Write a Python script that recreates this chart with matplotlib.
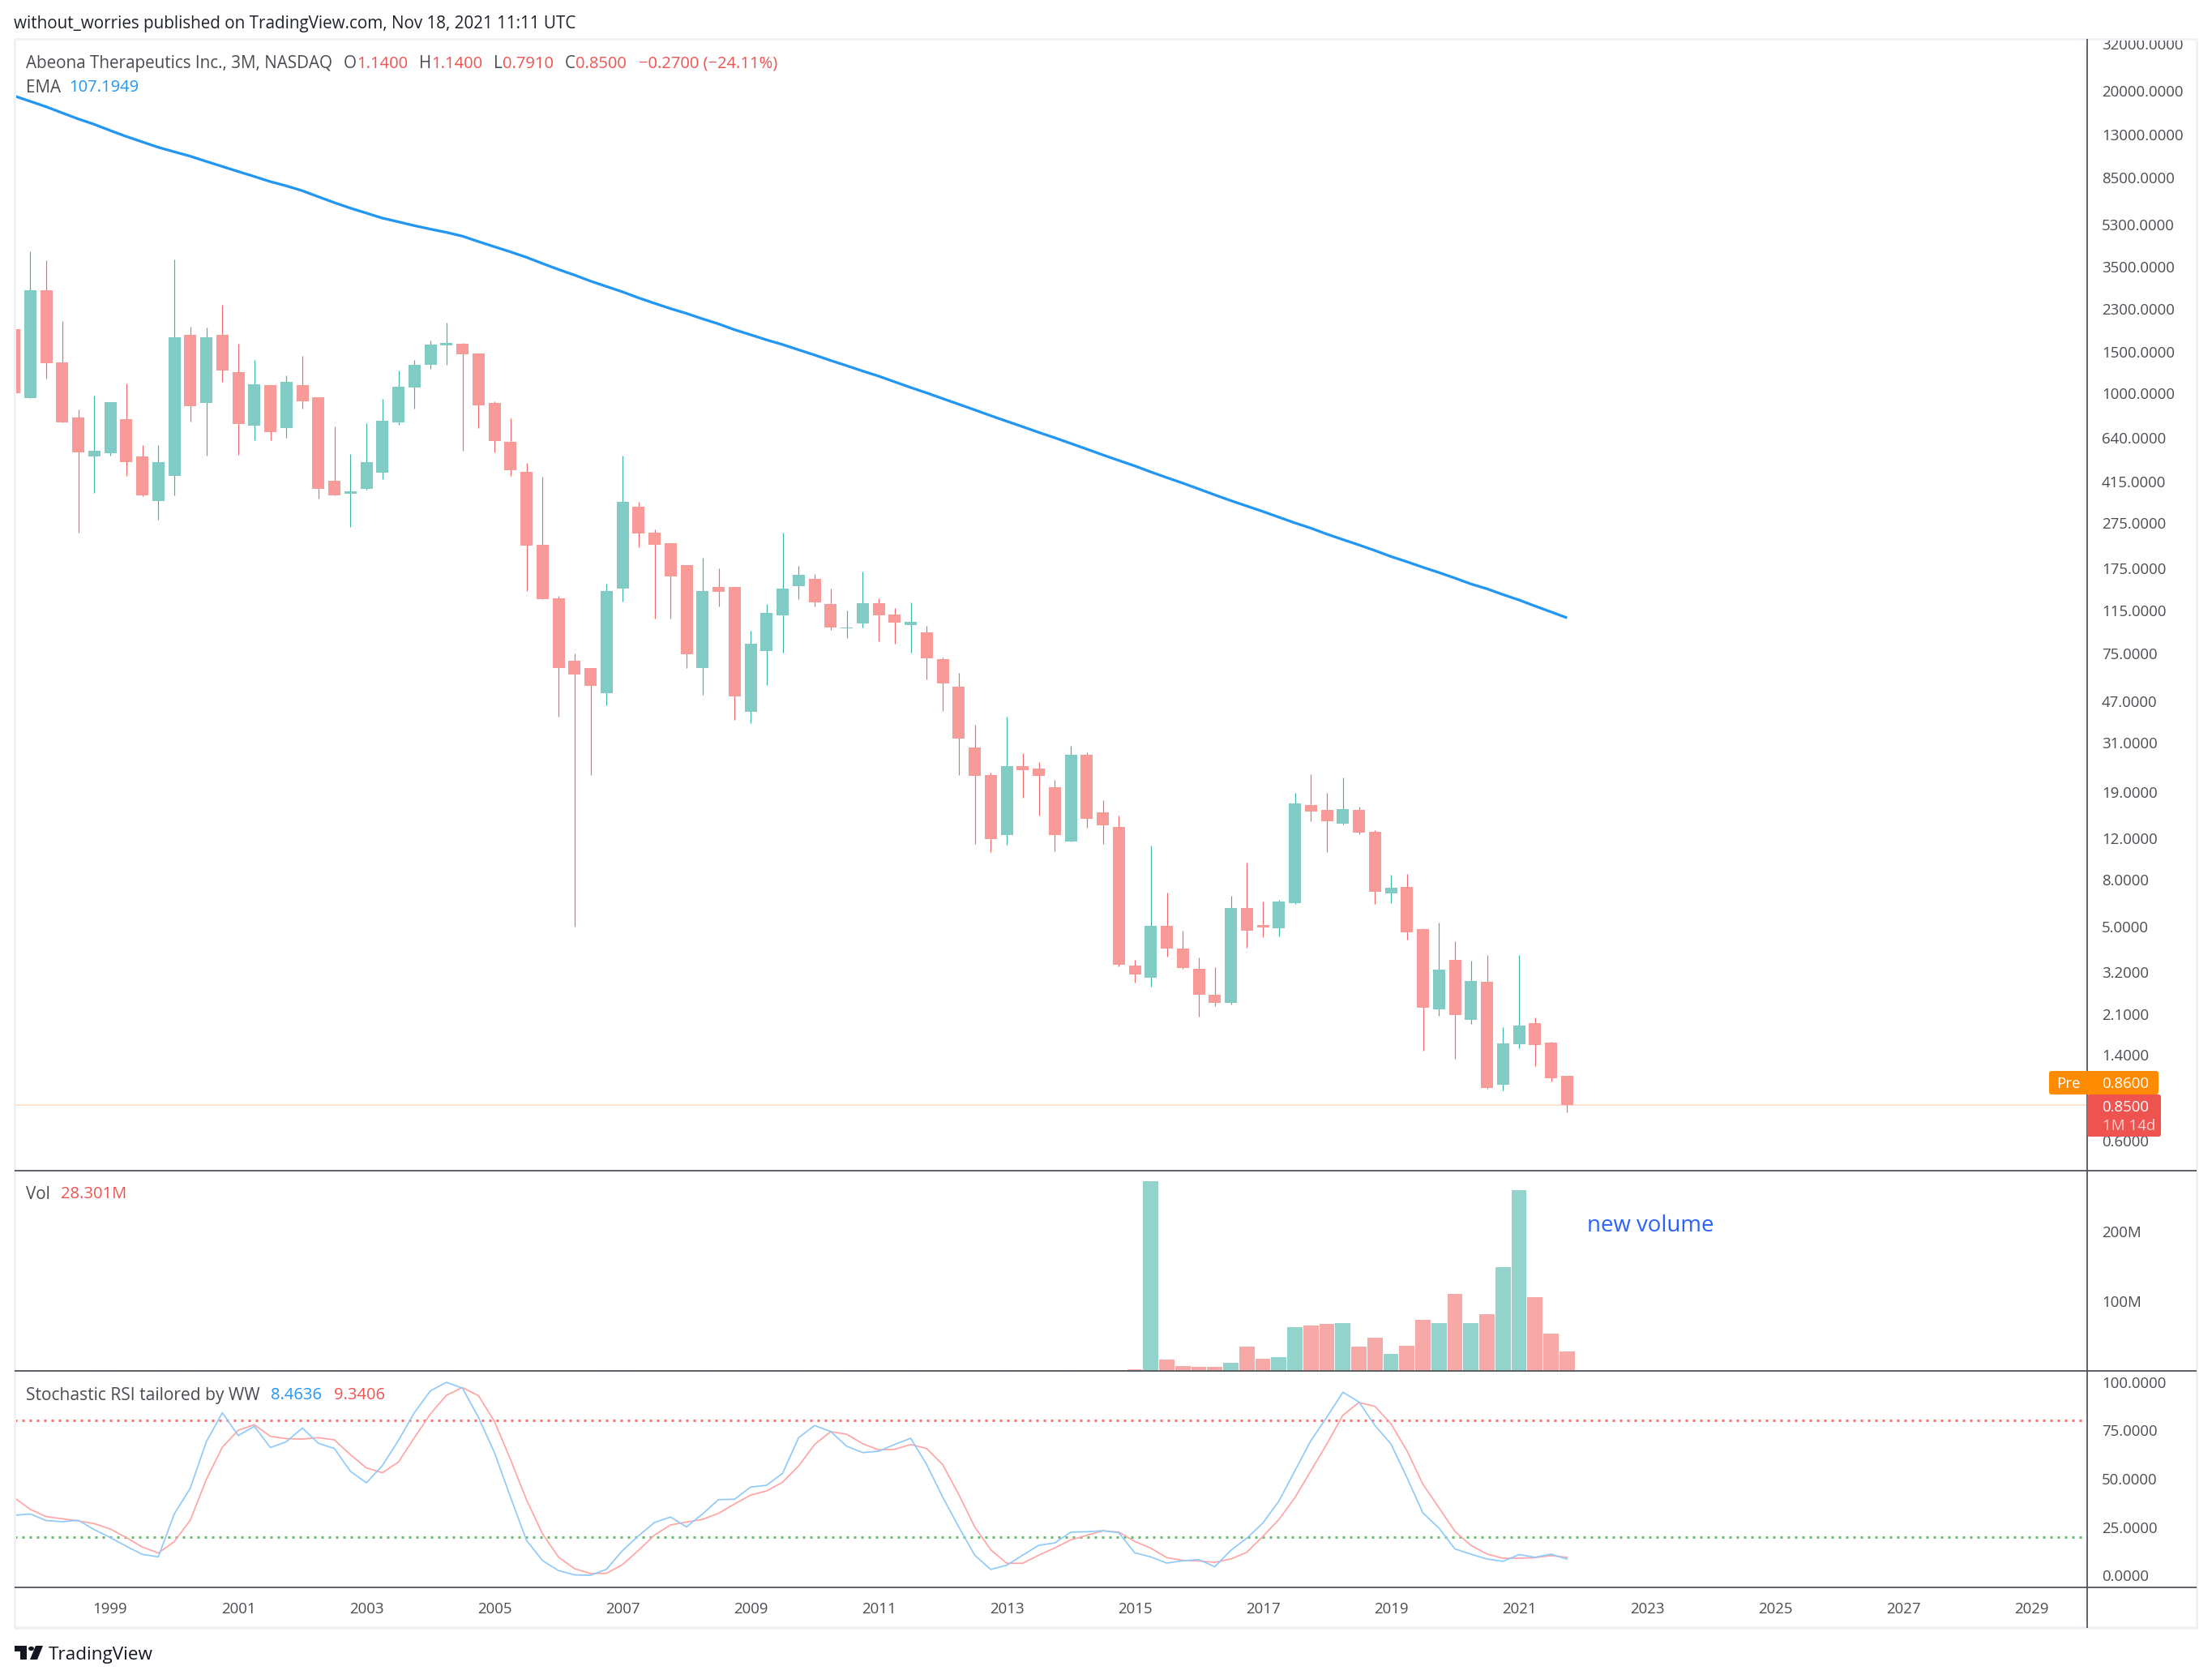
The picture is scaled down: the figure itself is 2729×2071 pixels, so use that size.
import numpy as np
import matplotlib
matplotlib.use("Agg")
import matplotlib.pyplot as plt
from matplotlib.patches import Polygon, Circle, FancyBboxPatch
from matplotlib.lines import Line2D
from matplotlib.transforms import Bbox
from matplotlib.ticker import NullLocator

plt.rcParams['font.family'] = ['Open Sans', 'DejaVu Sans']

W, H = 2729, 2071

# Quarterly candles, Q3 1997 .. Q4 2021
first_quarter = 1997.5
opens = [1884, 952, 2766, 1354, 781, 530, 548, 770, 532, 342,
         437, 1778, 908, 1778, 1229, 724, 1080, 702, 1080, 955,
         418, 366, 384, 451, 748, 1057, 1315, 1602, 1626, 1476,
         905, 614, 456, 222, 130, 69.9, 65.1, 50.8, 143, 323,
         249, 225, 181, 65.1, 146, 146, 42.1, 77.0, 110, 147,
         158, 123, 96.6, 101, 124, 111, 99.8, 92.8, 71.2, 54.2,
         29.6, 22.6, 12.4, 24.6, 24.0, 20.0, 11.6, 27.6, 15.6, 13.5,
         3.40, 3.02, 5.05, 4.02, 3.29, 2.55, 2.35, 6.01, 5.08, 4.92,
         6.32, 16.7, 15.9, 13.9, 15.9, 12.8, 6.97, 7.41, 4.88, 2.20,
         3.60, 1.98, 2.89, 1.04, 1.56, 1.92, 1.58, 1.14]
closes = [997, 2766, 1344, 748, 555, 564, 912, 501, 360, 502,
          1734, 873, 1734, 1251, 735, 1087, 675, 1115, 922, 386,
          362, 377, 502, 757, 1064, 1320, 1614, 1638, 1471, 886,
          621, 463, 220, 129, 64.9, 61.2, 54.6, 140, 338, 248,
          222, 162, 74.6, 140, 139, 49.2, 82.8, 113, 143, 164,
          125, 97.4, 97.4, 124, 110, 102, 103, 71.7, 56.0, 32.3,
          22.3, 11.9, 24.6, 23.6, 22.3, 12.4, 27.6, 14.6, 13.7, 3.42,
          3.12, 5.05, 4.02, 3.31, 2.55, 2.35, 6.01, 4.80, 4.95, 6.42,
          17.0, 15.7, 14.2, 16.0, 12.7, 7.07, 7.35, 4.73, 2.24, 3.27,
          2.08, 2.92, 1.01, 1.57, 1.87, 1.55, 1.11, 0.85]
highs = [1884, 4078, 3741, 2038, 846, 973, 912, 1095, 595, 595,
         3754, 1924, 1911, 2395, 1626, 1383, 1080, 1190, 1444, 955,
         717, 546, 740, 942, 1246, 1383, 1685, 2002, 1638, 1476,
         918, 776, 497, 435, 133, 75.4, 65.1, 150, 536, 338,
         258, 225, 181, 194, 175, 146, 94.2, 123, 249, 179,
         166, 143, 115, 170, 130, 118, 125, 99.0, 72.2, 62.1,
         37.0, 23.1, 40.2, 28.0, 25.6, 21.4, 30.1, 28.2, 17.5, 15.1,
         3.60, 11.2, 7.02, 4.80, 3.69, 3.35, 6.80, 9.46, 6.42, 6.53,
         18.8, 22.7, 18.8, 22.0, 16.4, 13.0, 8.37, 8.43, 4.92, 5.21,
         4.32, 3.57, 3.77, 1.85, 3.77, 2.03, 1.59, 1.14]
lows = [997, 950, 1152, 747, 249, 369, 534, 438, 359, 283,
        361, 751, 534, 1115, 540, 625, 625, 639, 855, 350,
        361, 264, 383, 426, 730, 855, 1264, 1325, 564, 704,
        553, 440, 140, 129, 40.2, 5.01, 22.5, 45.1, 126, 216,
        106, 106, 65.1, 49.9, 120, 38.8, 37.7, 55.0, 75.9, 129,
        120, 95.1, 87.7, 97.4, 84.9, 82.9, 75.9, 58.2, 42.6, 22.6,
        11.4, 10.5, 11.3, 18.0, 15.1, 10.6, 11.6, 13.3, 11.4, 3.37,
        2.87, 2.76, 3.72, 3.29, 2.05, 2.27, 2.31, 4.05, 4.51, 4.54,
        6.26, 14.2, 10.5, 13.8, 12.5, 6.26, 6.32, 4.40, 1.46, 2.06,
        1.35, 1.91, 1.00, 0.984, 1.50, 1.25, 1.08, 0.791]
ema = [19030, 18040, 17090, 16080, 15150, 14360, 13500, 12730, 12060, 11430,
       10930, 10460, 9936, 9450, 8985, 8556, 8130, 7794, 7427, 6998,
       6600, 6250, 5950, 5662, 5455, 5253, 5075, 4914, 4732, 4485,
       4261, 4050, 3837, 3608, 3401, 3217, 3030, 2872, 2723, 2566,
       2431, 2306, 2198, 2083, 1981, 1870, 1779, 1691, 1614, 1532,
       1455, 1378, 1309, 1241, 1180, 1115, 1054, 999, 944, 893,
       844, 797, 754, 714, 675, 640, 605, 572, 540, 511,
       484, 456, 431, 408, 385, 363, 343, 325, 308, 291,
       275, 261, 246, 233, 221, 209, 197, 187, 177, 168,
       159, 150, 143, 135, 128, 120.5, 113.7, 107.19]
volume_m = [0.8] * 65 + [1.5, 1.5, 1.5, 1.5, 1.5, 2.4,
            272, 16.4, 7.2, 5.8, 5.8, 11.6, 35.2, 17.4, 19.8, 62.7,
            65.1, 67.5, 68.5, 35.2, 47.8, 24.6, 36.2, 73.3, 68.5, 110.5,
            68.5, 81.5, 149, 259, 105.6, 53.5, 28.3]
stoch_k = [31.1, 31.8, 28.4, 27.8, 28.5, 23.7, 19.6, 15.1, 10.9, 9.6,
           31.8, 45.1, 69.1, 84.1, 72.3, 77.1, 66.1, 69.1, 76.2, 68.3,
           65.6, 53.8, 47.9, 56.8, 69.8, 84.2, 95.4, 99.8, 96.8, 81.7,
           63.5, 40.5, 18.2, 7.7, 2.5, 0.3, 0.1, 3.2, 12.9, 20.5,
           27.4, 30.2, 25.1, 31.8, 39.2, 39.4, 45.7, 46.6, 52.8, 71.2,
           77.5, 74.4, 66.8, 63.5, 64.2, 67.7, 70.9, 57.3, 40.5, 25.1,
           10.5, 3.1, 5.3, 10.5, 15.6, 16.8,
           22.4, 22.6, 23.1, 22.1, 11.7, 9.6, 6.4, 7.6, 8.2, 4.5,
           13.0, 19.3, 27.1, 38.4, 54.1, 69.7, 81.9, 94.7, 89.7, 77.5,
           68.0, 50.6, 32.3, 24.5, 13.7, 11.0, 8.5, 7.3, 10.8, 9.4, 11.0, 8.46]
stoch_d = [40.2, 34.2, 30.4, 29.3, 28.2, 26.8, 24.0, 19.6, 14.7, 11.6,
           17.5, 28.6, 49.6, 66.3, 75.1, 77.9, 71.9, 70.7, 70.5, 71.2,
           70.1, 62.4, 55.6, 53.1, 58.6, 71.2, 83.5, 93.1, 97.1, 92.9,
           79.6, 60.0, 39.1, 21.6, 9.5, 3.5, 1.0, 1.1, 5.6, 13.0,
           20.9, 26.1, 27.6, 29.0, 32.1, 37.0, 41.5, 43.7, 48.2, 56.6,
           67.7, 74.3, 73.0, 68.1, 64.9, 65.2, 67.7, 65.6, 57.3, 41.9,
           25.1, 13.3, 6.3, 6.3, 10.5, 14.2,
           18.4, 20.7, 23.1, 22.4, 17.6, 14.1, 9.2, 7.8, 7.5, 6.8,
           8.5, 12.0, 20.2, 28.9, 40.2, 54.1, 68.0, 82.8, 89.4, 87.4,
           78.4, 64.5, 47.1, 35.0, 22.8, 15.5, 11.1, 8.9, 8.9, 9.2, 10.3, 9.34]

price_ticks = [32000, 20000, 13000, 8500, 5300, 3500, 2300, 1500, 1000, 640, 415, 275,
               175, 115, 75, 47, 31, 19, 12, 8, 5, 3.2, 2.1, 1.4, 0.6]
volume_ticks = [100, 200]
volume_tick_labels = ['100M', '200M']
stoch_ticks = [0, 25, 50, 75, 100]
year_ticks = list(range(1999, 2031, 2))
stoch_upper, stoch_lower = 80, 20
last_close, pre_price = 0.85, 0.86

TEAL_BODY, RED_BODY = '#80CBC4', '#F79A98'
TEAL_WICK, RED_WICK = '#3DB3A8', '#F0686A'
TEAL_VOL, RED_VOL = '#94D3CC', '#F7A9A7'
GREY = '#4A4C52'
RED = '#EF5350'
BLUE = '#2196F3'
SEP = '#50535B'
BORDER = '#F0F1F7'

LEFT, AXIS_X, RIGHT = 18, 2575, 2710
TOP, P1, P2, P3, BOTTOM = 48, 1444, 1691, 1958, 2008


def fx(px):
    return px / W


def fy(py):
    return 1 - py / H


def pane(top, bottom):
    ax = fig.add_axes([fx(LEFT), fy(bottom), fx(AXIS_X) - fx(LEFT), fy(top) - fy(bottom)])
    ax.set_facecolor('white')
    for s in ax.spines.values():
        s.set_visible(False)
    ax.set_xlim(1997.506, 2029.873)
    ax.set_xticks([])
    ax.yaxis.tick_right()
    ax.tick_params(axis='y', length=0, pad=13, labelsize=TICK_FS, labelcolor=GREY)
    return ax


TICK_FS = 13.4
fig = plt.figure(figsize=(W / 100, H / 100), dpi=100, facecolor='white')
n = len(opens)
xs = first_quarter + 0.25 * np.arange(n)
is_up = np.array(closes) >= np.array(opens)

# ---- price pane
ax = pane(TOP, P1)
ax.set_yscale('log')
ax.set_ylim(10 ** (-0.3525), 10 ** 4.5252)
body_colors = [TEAL_BODY if u else RED_BODY for u in is_up]
wick_colors = [TEAL_WICK if u else RED_WICK for u in is_up]
ax.vlines(xs, lows, highs, colors=wick_colors, linewidth=0.85, zorder=2)
body_lo = np.minimum(opens, closes)
body_hi = np.maximum(opens, closes)
ax.bar(xs, body_hi - body_lo, bottom=body_lo, width=0.19, color=body_colors, linewidth=0, zorder=3)
ax.plot(xs, ema, color=BLUE, lw=2.35, zorder=4, solid_capstyle='butt')
ax.axhline(last_close, color=RED, lw=0.72, ls=(0, (1, 1)), zorder=1, alpha=0.4)
ax.axhline(pre_price, color='#FF9800', lw=0.72, ls=(0, (1, 1)), zorder=1, alpha=0.4)
ax.set_yticks(price_ticks)
ax.set_yticklabels([f'{v:.4f}' for v in price_ticks])
ax.yaxis.set_minor_locator(NullLocator())
for lbl in ax.get_yticklabels():
    lbl.set_clip_on(True)
    lbl.set_clip_box(Bbox([[0, 0], [W, fy(TOP) * H]]))

# ---- volume pane
axv = pane(P1, P2)
axv.set_ylim(0, 287)
axv.bar(xs, volume_m, width=0.237, color=[TEAL_VOL if u else RED_VOL for u in is_up], linewidth=0)
axv.set_yticks(volume_ticks)
axv.set_yticklabels(volume_tick_labels)

# ---- stochastic pane
axs = pane(P2, P3)
axs.set_ylim(-6.16, 105.7)
axs.axhline(stoch_upper, color='#FF6F6F', lw=2.16, ls=(0, (1, 2)), zorder=1, dash_capstyle='butt')
axs.axhline(stoch_lower, color='#69BC6C', lw=2.16, ls=(0, (1, 2)), zorder=1, dash_capstyle='butt')
axs.plot(xs, stoch_k, color='#90CAF9', lw=1.25, zorder=3)
axs.plot(xs, stoch_d, color='#FFA5A5', lw=1.25, zorder=2)
axs.set_yticks(stoch_ticks)
axs.set_yticklabels([f'{v:.4f}' for v in stoch_ticks])
axs.set_xticks(year_ticks)
axs.set_xticklabels([str(y) for y in year_ticks])
axs.tick_params(axis='x', length=0, pad=13, labelsize=TICK_FS, labelcolor=GREY)


# ---- frame and separators
def fline(x0, y0, x1, y1, color, px):
    fig.add_artist(Line2D([fx(x0), fx(x1)], [fy(y0), fy(y1)], color=color, lw=px * 0.72,
                          transform=fig.transFigure, solid_capstyle='butt', zorder=5))


fline(LEFT, TOP, RIGHT, TOP, BORDER, 3)
fline(LEFT, TOP, LEFT, BOTTOM, BORDER, 3)
fline(RIGHT, TOP, RIGHT, BOTTOM, BORDER, 3)
fline(LEFT, BOTTOM, RIGHT + 1, BOTTOM, BORDER, 4)
for yy in (P1, P2, P3):
    fline(LEFT, yy, RIGHT, yy, SEP, 1.8)
fline(AXIS_X, TOP, AXIS_X, BOTTOM, SEP, 1.8)


# ---- price labels on the scale
def box(x0, y0, x1, y1, color):
    fig.add_artist(FancyBboxPatch((fx(x0), fy(y1)), fx(x1) - fx(x0), fy(y0) - fy(y1),
                                  boxstyle='round,pad=0,rounding_size=0.0012', mutation_aspect=W / H,
                                  facecolor=color, edgecolor='none', transform=fig.transFigure, zorder=6))


box(2528, 1321, 2663, 1350, '#FF8C00')
box(AXIS_X, 1350, 2666, 1402, RED)


def txt(x, y, s, color=GREY, size=14.9, **kw):
    kw.setdefault('ha', 'left')
    kw.setdefault('va', 'center')
    return fig.text(fx(x), fy(y), s, color=color, fontsize=size, zorder=7, **kw)


VAL_FS = 14.5
txt(2537, 1337, 'Pre', 'white', TICK_FS)
txt(2593, 1337, f'{pre_price:.4f}', 'white', TICK_FS)
txt(2593, 1366, f'{last_close:.4f}', 'white', TICK_FS)
txt(2594, 1389, '1M 14d', '#FBD0CF', TICK_FS)

# ---- texts
txt(17, 29, 'without_worries published on TradingView.com, Nov 18, 2021 11:11 UTC', '#1E222D', 14.9)
txt(32, 78.5, 'Abeona Therapeutics Inc., 3M, NASDAQ')
for x, s in ((424, 'O'), (517, 'H'), (609, 'L'), (697, 'C')):
    txt(x, 78.5, s)
for x, s in ((440, '1.1400'), (532, '1.1400'), (620, '0.7910'), (710, '0.8500'),
             (788, '\u22120.2700 (\u221224.11%)')):
    txt(x, 78.5, s, RED, VAL_FS)
txt(32, 108, 'EMA')
txt(85, 108, '107.1949', BLUE, VAL_FS)
txt(32, 1473.5, 'Vol')
txt(75, 1473.5, '28.301M', RED, VAL_FS)
txt(32, 1721, 'Stochastic RSI tailored by WW', size=15.1)
txt(334, 1721, '8.4636', BLUE, VAL_FS)
txt(412, 1721, '9.3406', RED, VAL_FS)
txt(1958, 1512, 'new volume', '#2962FF', 19.9)

# ---- footer logo
LOGO = '#131722'
fig.add_artist(Polygon([(fx(18), fy(2030)), (fx(33), fy(2030)), (fx(33), fy(2047)), (fx(25), fy(2047)),
                        (fx(25), fy(2037)), (fx(18), fy(2037))], closed=True, facecolor=LOGO, edgecolor='none',
                       transform=fig.transFigure, zorder=7))
fig.add_artist(Polygon([(fx(44), fy(2030)), (fx(53), fy(2030)), (fx(46), fy(2047)), (fx(37), fy(2047))],
                       closed=True, facecolor=LOGO, edgecolor='none', transform=fig.transFigure, zorder=7))
fig.add_artist(Circle((fx(38.5), fy(2033.5)), 3.5 / W, facecolor=LOGO, edgecolor='none',
                      transform=fig.transFigure, zorder=7))
txt(60, 2041, 'TradingView', LOGO, 16.2)

fig.savefig('out.png', dpi=100, facecolor='white')
